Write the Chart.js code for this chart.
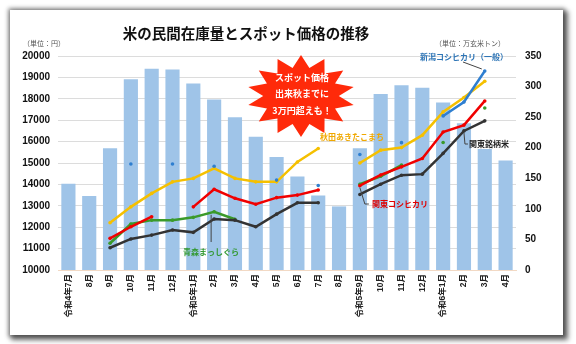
<!DOCTYPE html>
<html lang="ja">
<head>
<meta charset="utf-8">
<title>米の民間在庫量とスポット価格の推移</title>
<script src="https://cdn.jsdelivr.net/npm/chart.js@4.4.1/dist/chart.umd.min.js"></script>
<style>
  html, body { margin: 0; padding: 0; background: #fff; }
  body { width: 576px; height: 344px; position: relative; overflow: hidden; }
  #card {
    position: absolute; left: 10px; top: 10px; width: 553px; height: 325px;
    background: #fff;
    box-shadow: 0 0 4px 2px rgba(0, 0, 0, 0.35), 3px 3px 5px 2px rgba(0, 0, 0, 0.55);
  }
  #chart { display: block; }
</style>
</head>
<body>
<div id="card"><canvas id="chart" width="553" height="325"></canvas></div>
<script>
const months = [
  '令和4年7月', '8月', '9月', '10月', '11月', '12月',
  '令和5年1月', '2月', '3月', '4月', '5月', '6月', '7月', '8月',
  '令和5年9月', '10月', '11月', '12月',
  '令和6年1月', '2月', '3月', '4月',
];

// 民間在庫量（万玄米トン）
const stock = [141, 121, 199, 312, 329, 328, 305, 279, 250, 218, 185, 153, 122, 104, 199, 288, 302, 298, 274, 240, 198, 179];

// スポット価格（円）
const niigataKoshi = [null, null, null, 14950, null, 14950, null, 14850, null, null, 14200, null, 13950, null, 15400, null, 15950, null, 17200, 17850, 19300, null];
const akitaKomachi = [null, null, 12210, 12950, 13580, 14120, 14280, 14750, 14280, 14120, 14120, 15050, 15680, null, 15000, 15600, 15720, 16300, 17390, 18060, 18820, null];
const kantoKoshi = [null, null, 11480, 12020, 12490, null, 12950, 13770, 13350, 13070, 13380, 13500, 13740, null, 13940, 14440, 14820, 15210, 16450, 16770, 17900, null];
const aomoriMasshigura = [null, null, 11250, 12150, 12330, 12330, 12460, 12720, 12370, null, null, null, null, null, 14010, 14380, 14900, null, 15960, null, 17570, null];
const kantoBrand = [null, null, 11040, 11450, 11630, 11870, 11760, 12380, 12330, 12020, 12610, 13140, 13140, null, 13530, 14010, 14430, 14480, 15450, 16500, 16970, null];

const priceTicks = [10000, 20000, 1000];
const stockTicks = [0, 350, 50];

const FONT = "'Liberation Sans', 'Noto Sans CJK JP', sans-serif";
const JP = "'Noto Sans CJK JP', sans-serif";

function lineSet(label, data, color, order) {
  return {
    type: 'line',
    label,
    data,
    yAxisID: 'y',
    borderColor: color,
    backgroundColor: color,
    borderWidth: 2.5,
    pointRadius: 1.8,
    pointBorderWidth: 0,
    spanGaps: false,
    tension: 0,
    order,
  };
}

// red burst with the callout text
function drawBurst(ctx, cx, cy, rx, ry, spikes) {
  ctx.beginPath();
  for (let i = 0; i < spikes * 2; i++) {
    const a = (Math.PI * i) / spikes - Math.PI / 2;
    const k = i % 2 === 0 ? 1 : 0.7;
    const x = cx + Math.cos(a) * rx * k;
    const y = cy + Math.sin(a) * ry * k;
    if (i === 0) ctx.moveTo(x, y); else ctx.lineTo(x, y);
  }
  ctx.closePath();
  ctx.fillStyle = '#ff2a0a';
  ctx.fill();
}

const callouts = {
  id: 'callouts',
  afterDraw(chart) {
    const { ctx } = chart;
    const pt = (ds, i) => chart.getDatasetMeta(ds).data[i];
    ctx.save();

    // title and units
    ctx.fillStyle = '#111';
    ctx.textAlign = 'center';
    ctx.textBaseline = 'middle';
    ctx.font = `bold 14.5px ${JP}`;
    ctx.fillText('米の民間在庫量とスポット価格の推移', 236, 23);
    ctx.font = `7px ${JP}`;
    ctx.fillStyle = '#555';
    ctx.textAlign = 'left';
    ctx.fillText('（単位：円）', 13, 33);
    ctx.fillText('（単位：万玄米トン）', 425, 33);

    // burst
    drawBurst(ctx, 291, 86, 54, 41, 14);
    ctx.fillStyle = '#fff';
    ctx.textAlign = 'center';
    ctx.font = `bold 9px ${JP}`;
    ctx.fillText('スポット価格', 292, 68);
    ctx.fillText('出来秋までに', 292, 84);
    ctx.fillText('3万円超えも！', 292, 101);

    // series labels with leaders
    ctx.strokeStyle = '#444';
    ctx.lineWidth = 1;
    ctx.font = `bold 8px ${JP}`;
    ctx.textAlign = 'left';

    const nk = pt(0, 20);
    ctx.beginPath();
    ctx.moveTo(453, 52);
    ctx.lineTo(nk.x - 3, nk.y - 2);
    ctx.stroke();
    ctx.fillStyle = '#2e75b6';
    ctx.fillText('新潟コシヒカリ（一般）', 410, 47);

    ctx.fillStyle = '#f0a800';
    ctx.fillText('秋田あきたこまち', 310, 127);

    const kk = pt(2, 14);
    ctx.beginPath();
    ctx.moveTo(kk.x, kk.y + 2);
    ctx.lineTo(kk.x + 5, 194);
    ctx.lineTo(kk.x + 9, 194);
    ctx.stroke();
    ctx.fillStyle = '#e00000';
    ctx.fillText('関東コシヒカリ', 362, 194);

    const kb = pt(4, 19);
    ctx.beginPath();
    ctx.moveTo(kb.x, kb.y + 2);
    ctx.lineTo(kb.x + 1, 134);
    ctx.lineTo(kb.x + 4, 134);
    ctx.stroke();
    ctx.fillStyle = '#222';
    ctx.fillText('関東銘柄米', 459, 134);

    const ao = pt(3, 7);
    ctx.beginPath();
    ctx.moveTo(ao.x - 3, ao.y + 3);
    ctx.lineTo(ao.x - 3, 232);
    ctx.stroke();
    ctx.fillStyle = '#339933';
    ctx.textAlign = 'center';
    ctx.fillText('青森まっしぐら', 201, 242);

    ctx.restore();
  },
};

new Chart(document.getElementById('chart').getContext('2d'), {
  data: {
    labels: months,
    datasets: [
      lineSet('新潟コシヒカリ（一般）', niigataKoshi, '#2f7fd0', 1),
      lineSet('秋田あきたこまち', akitaKomachi, '#f5c000', 4),
      lineSet('関東コシヒカリ', kantoKoshi, '#f00000', 2),
      lineSet('青森まっしぐら', aomoriMasshigura, '#3a9a2a', 5),
      lineSet('関東銘柄米', kantoBrand, '#333333', 3),
      {
        type: 'bar',
        label: '民間在庫量',
        data: stock,
        yAxisID: 'y1',
        backgroundColor: '#9fc4e8',
        barPercentage: 0.68,
        categoryPercentage: 1,
        order: 10,
      },
    ],
  },
  options: {
    responsive: false,
    animation: false,
    layout: { padding: { left: 8, right: 7, top: 46, bottom: 5 } },
    plugins: {
      legend: { display: false },
      tooltip: { enabled: false },
    },
    scales: {
      x: {
        grid: { display: false, drawTicks: false },
        border: { color: '#f2d9c4' },
        ticks: {
          color: '#222',
          font: { family: FONT, size: 8.5, weight: 'bold' },
          maxRotation: 90,
          minRotation: 90,
          autoSkip: false,
          padding: 4,
        },
        afterFit: (s) => { s.height = 60; },
      },
      y: {
        position: 'left',
        min: priceTicks[0],
        max: priceTicks[1],
        ticks: {
          stepSize: priceTicks[2],
          color: '#111',
          padding: 8,
          font: { family: FONT, size: 10, weight: 'bold' },
          callback: (v) => String(v),
        },
        grid: { color: '#dcdcdc', drawTicks: false },
        border: { display: false },
        afterFit: (s) => { s.width = 40; },
      },
      y1: {
        position: 'right',
        min: stockTicks[0],
        max: stockTicks[1],
        ticks: {
          stepSize: stockTicks[2],
          color: '#111',
          padding: 9,
          font: { family: FONT, size: 10, weight: 'bold' },
        },
        grid: { display: false, drawTicks: false },
        border: { display: false },
        afterFit: (s) => { s.width = 40; },
      },
    },
  },
  plugins: [callouts],
});
</script>
</body>
</html>
